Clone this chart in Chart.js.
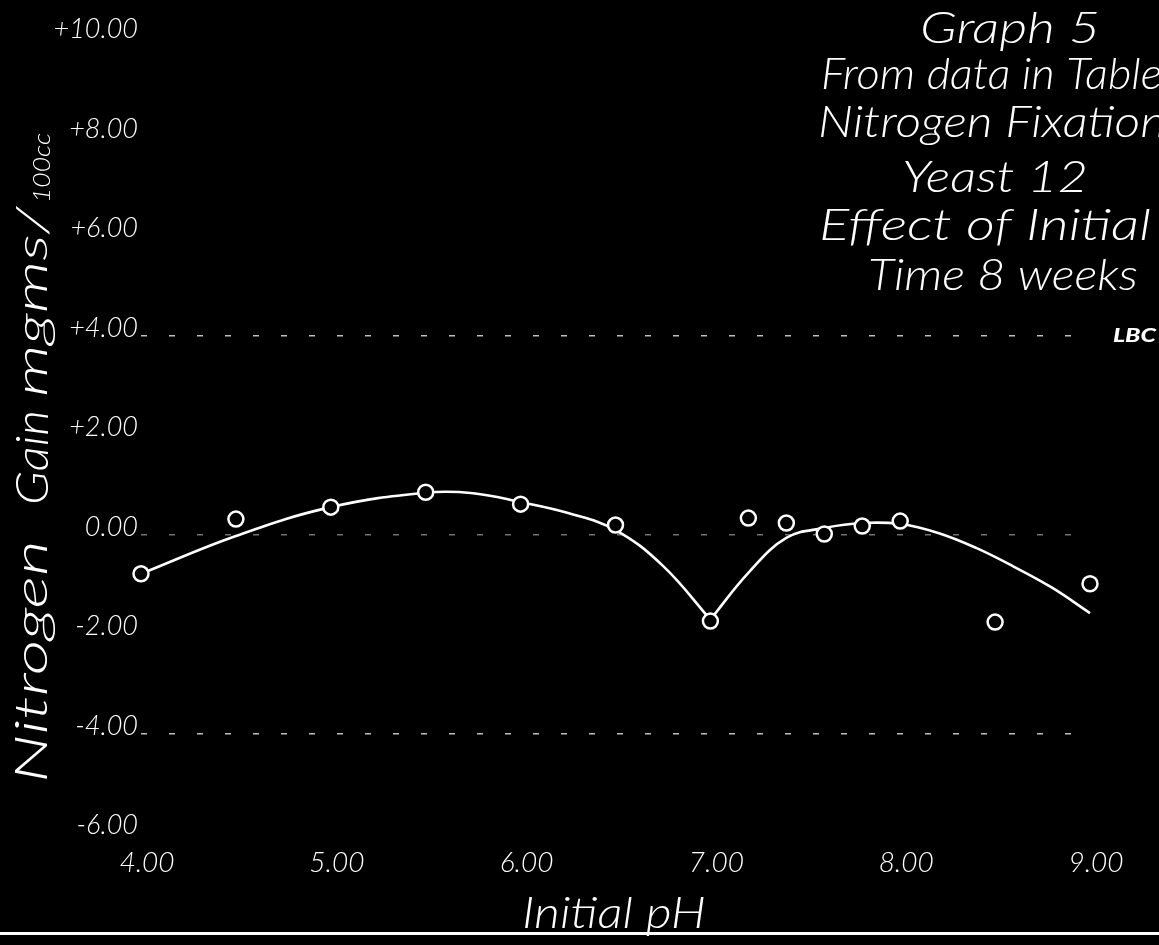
<!DOCTYPE html>
<html>
<head>
<meta charset="utf-8">
<script src="https://cdn.jsdelivr.net/npm/chart.js@4.4.1/dist/chart.umd.min.js"></script>
<style>
  html, body { margin: 0; padding: 0; background: #000; }
  #sheet { width: 1159px; height: 945px; }
</style>
</head>
<body>
<div id="sheet"><canvas id="graph" width="1159" height="945"></canvas></div>
<script>
// Observed nitrogen gain (mgms / 100 cc) against the initial pH of the cultures
const phValues     = [4.0, 4.5, 5.0, 5.5, 6.0, 6.5, 7.0, 7.2, 7.4, 7.6, 7.8, 8.0, 8.5, 9.0];
const nitrogenGain = [-0.78, 0.32, 0.56, 0.86, 0.62, 0.20, -1.73, 0.34, 0.24, 0.02, 0.18, 0.28, -1.75, -0.98];

// Hand-drawn trend: acid branch down to the minimum at pH 7, then the alkaline branch
const acidCurvePh       = [4.0, 4.5, 5.0, 5.5, 5.75, 6.0, 6.25, 6.5, 6.75, 7.0];
const acidCurveGain     = [-0.78, -0.02, 0.56, 0.85, 0.84, 0.66, 0.44, 0.10, -0.62, -1.70];
const alkalineCurvePh   = [7.0, 7.2, 7.4, 7.6, 7.8, 8.0, 8.2, 8.4, 8.6, 8.8, 9.0];
const alkalineCurveGain = [-1.70, -0.76, -0.06, 0.14, 0.24, 0.22, 0.04, -0.26, -0.64, -1.06, -1.57];

// Axis ticks
const xTickValues = [4, 5, 6, 7, 8, 9];
const xTickLabels = ['4.00', '5.00', '6.00', '7.00', '8.00', '9.00'];
const yTickValues = [10, 8, 6, 4, 2, 0, -2, -4, -6];
const yTickLabels = ['+10.00', '+8.00', '+6.00', '+4.00', '+2.00', '0.00', '-2.00', '-4.00', '-6.00'];
const ruledLevels = [4, 0, -4];

// Lettering on the sheet
const noteLines  = ['Graph 5', 'From data in Table', 'Nitrogen Fixation', 'Yeast 12', 'Effect of Initial', 'Time 8 weeks'];
const yTitleParts = ['Nitrogen', 'Gain', 'mgms/', '100cc'];
const xTitleText = 'Initial pH';
const initialsText = 'LBC';

const pen = 'Lato';
const ink = '#ffffff';

function pairs(xs, ys) { return xs.map((x, i) => ({ x: x, y: ys[i] })); }

// Draw a line of lettering stretched or squeezed to span x0..x1
function letter(ctx, text, x0, x1, baseline, size, weight) {
  ctx.save();
  ctx.font = 'italic ' + (weight || 300) + ' ' + size + 'px "' + pen + '"';
  ctx.fillStyle = ink;
  ctx.textBaseline = 'alphabetic';
  ctx.textAlign = 'left';
  const w = ctx.measureText(text).width;
  ctx.translate(x0, baseline);
  ctx.scale((x1 - x0) / w, 1);
  ctx.fillText(text, 0, 0);
  ctx.restore();
}

// Same, written upward along a vertical baseline
function letterUp(ctx, text, yStart, yEnd, baselineX, size) {
  ctx.save();
  ctx.font = 'italic 300 ' + size + 'px "' + pen + '"';
  ctx.fillStyle = ink;
  ctx.textBaseline = 'alphabetic';
  ctx.textAlign = 'left';
  const w = ctx.measureText(text).width;
  ctx.translate(baselineX, yStart);
  ctx.rotate(-Math.PI / 2);
  ctx.scale((yStart - yEnd) / w, 1);
  ctx.fillText(text, 0, 0);
  ctx.restore();
}

const sheetLettering = {
  id: 'sheetLettering',
  beforeDraw(chart) {
    const ctx = chart.ctx;
    ctx.save();
    ctx.fillStyle = '#000';
    ctx.fillRect(0, 0, chart.width, chart.height);
    ctx.restore();
  },
  afterDraw(chart, args, opts) {
    const ctx = chart.ctx;
    // title block, upper right
    opts.notes.forEach((n, i) => letter(ctx, noteLines[i], n[0], n[1], n[2], n[3]));
    letter(ctx, initialsText, opts.initials[0], opts.initials[1], opts.initials[2], opts.initials[3], 900);
    // vertical axis caption
    opts.yTitle.forEach((p, i) => letterUp(ctx, yTitleParts[i], p[0], p[1], p[2], p[3]));
    // horizontal axis caption and the rule beneath it
    const xt = opts.xTitle;
    letter(ctx, xTitleText, xt[0], xt[1], xt[2], xt[3]);
    ctx.save();
    ctx.strokeStyle = ink;
    ctx.lineWidth = 3;
    ctx.beginPath();
    ctx.moveTo(0, opts.ruleY);
    ctx.lineTo(chart.width, opts.ruleY);
    ctx.stroke();
    ctx.restore();
  }
};

Chart.defaults.color = ink;

new Chart(document.getElementById('graph'), {
  type: 'scatter',
  data: {
    datasets: [
      {
        data: pairs(acidCurvePh, acidCurveGain),
        showLine: true,
        tension: 0.4,
        borderColor: ink,
        borderWidth: 2.6,
        pointRadius: 0,
        clip: false,
        order: 1
      },
      {
        data: pairs(alkalineCurvePh, alkalineCurveGain),
        showLine: true,
        tension: 0.4,
        borderColor: ink,
        borderWidth: 2.6,
        pointRadius: 0,
        clip: false,
        order: 1
      },
      {
        data: pairs(phValues, nitrogenGain),
        showLine: false,
        pointStyle: 'circle',
        pointRadius: 7.5,
        borderWidth: 2.5,
        borderColor: ink,
        backgroundColor: '#000',
        clip: false,
        order: 0
      }
    ]
  },
  options: {
    responsive: false,
    animation: false,
    devicePixelRatio: 1,
    layout: { padding: { top: 37.5, right: 69, left: 0, bottom: 0 } },
    plugins: {
      legend: { display: false },
      tooltip: { enabled: false },
      sheetLettering: {
        notes: [
          [920, 1100, 43, 44],
          [821, 1162, 89, 44],
          [818, 1166, 137, 44],
          [902, 1088, 192, 44],
          [819, 1151, 240, 44],
          [868, 1138, 290, 44]
        ],
        initials: [1113, 1156, 342, 19],
        yTitle: [
          [783, 540, 47, 46],
          [505, 410, 48, 46],
          [397, 207, 47, 44],
          [203, 133, 50, 24]
        ],
        xTitle: [522, 706, 928, 44],
        ruleY: 933.5
      }
    },
    scales: {
      x: {
        type: 'linear',
        min: 4,
        max: 9,
        afterFit(scale) { scale.height = 111.5; },
        afterBuildTicks(scale) { scale.ticks = xTickValues.map(v => ({ value: v })); },
        grid: { display: false },
        border: { display: false },
        ticks: {
          padding: 5,
          labelOffset: 6,
          font: { family: pen, style: 'italic', weight: 300, size: 28 },
          callback: v => xTickLabels[xTickValues.indexOf(v)]
        }
      },
      y: {
        type: 'linear',
        min: -6,
        max: 10,
        afterFit(scale) { scale.width = 141; },
        afterBuildTicks(scale) { scale.ticks = yTickValues.map(v => ({ value: v })); },
        grid: {
          drawTicks: false,
          lineWidth: 1.6,
          color: c => {
            if (!c.tick || !ruledLevels.includes(c.tick.value)) return 'rgba(0,0,0,0)';
            return c.tick.value === 0 ? 'rgba(255,255,255,0.45)' : 'rgba(255,255,255,0.75)';
          }
        },
        border: { display: false, dash: [6, 22] },
        ticks: {
          padding: 3,
          labelOffset: -8,
          font: { family: pen, style: 'italic', weight: 300, size: 27 },
          callback: v => yTickLabels[yTickValues.indexOf(v)]
        }
      }
    }
  },
  plugins: [sheetLettering]
});
</script>
</body>
</html>
